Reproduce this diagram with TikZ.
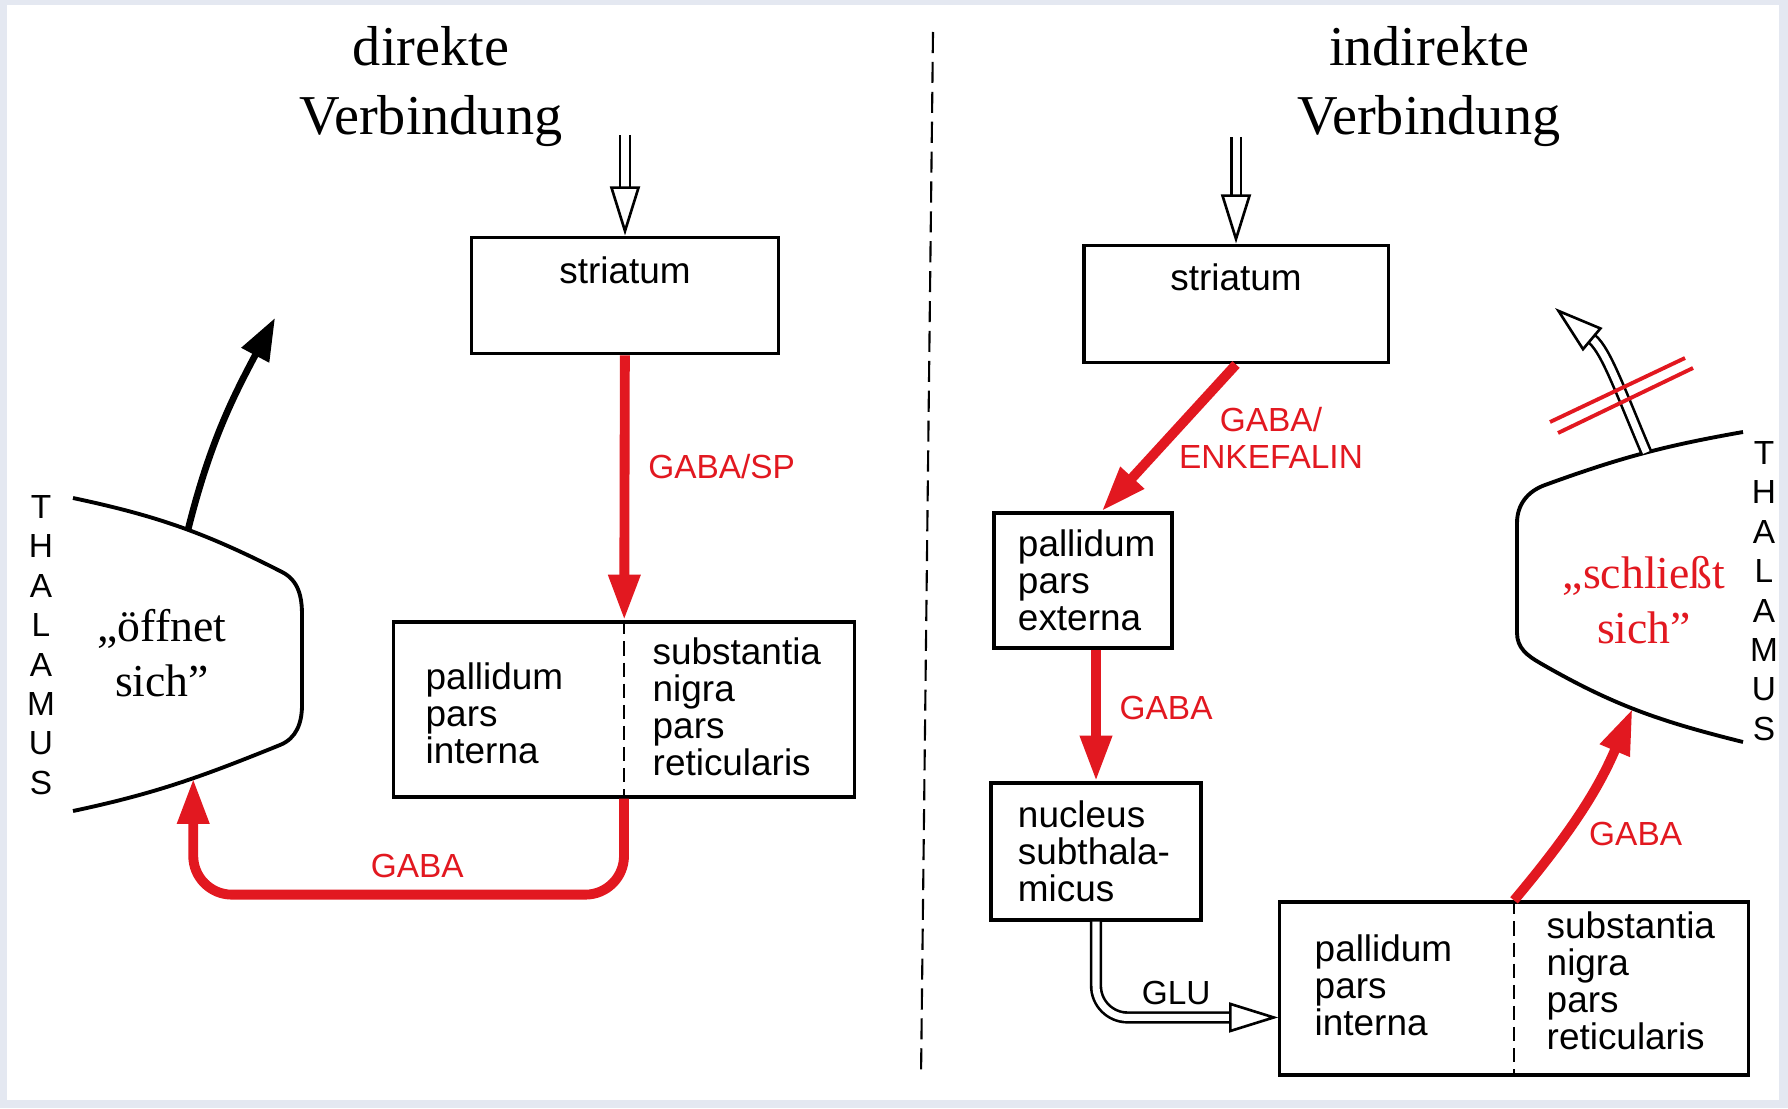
\documentclass[tikz,border=0pt]{standalone}
\usepackage{fontspec}
\setmainfont{Liberation Serif}
\setsansfont{Liberation Sans}
\usetikzlibrary{arrows.meta,positioning}
\definecolor{nred}{RGB}{226,24,32}
\definecolor{framebg}{RGB}{228,232,241}

\begin{document}
\begin{tikzpicture}[x=0.01cm, y=0.01cm,
    box/.style={draw, line width=0.9pt, inner sep=0pt},
    boxtxt/.style={font=\sffamily\fontsize{10.5}{10.5}\selectfont, align=left, inner sep=0pt},
    lab/.style={font=\sffamily\fontsize{9.5}{10.5}\selectfont, align=center},
    rlab/.style={lab, text=nred},
    gaba/.style={draw=nred, line width=2.8pt, -{Triangle[length=13pt, width=8.5pt]}},
    hollow/.style={draw, line width=0.75pt, double=white, double distance=2pt,
        -{Triangle[open, length=14pt, width=8.5pt, line width=0.75pt]}},
    thal/.style={draw, line width=1.1pt},
    tletters/.style={font=\sffamily\fontsize{9.5}{11.2}\selectfont, align=center, inner sep=0pt},
    title/.style={font=\fontsize{16}{19.6}\selectfont, align=center},
    state/.style={font=\fontsize{13}{15.5}\selectfont, align=center}]

\fill[framebg] (0,0) rectangle (1788,1108);
\fill[white] (7,8) rectangle (1779,1103);
\useasboundingbox (0,0) rectangle (1788,1108);

% titles and divider
\node[title] (ltitle) at (431,1021) {direkte\\Verbindung};
\node[title] (rtitle) at (1429,1021) {indirekte\\Verbindung};
\draw[dash pattern=on 6pt off 2.5pt, line width=0.6pt] (933,1076) -- (921,30);

% --- direkte Verbindung
\coordinate (lin) at (625,973);
\node[box, boxtxt, minimum width=3.07cm, text height=13.1pt, text depth=20.1pt] (lstr) at (625,812.5) {striatum};
\node[box, minimum width=4.60cm, minimum height=1.75cm] (lpal) at (624,398.5) {};
\draw[dash pattern=on 4pt off 2pt, line width=0.6pt] (lpal.north) -- (lpal.south);
\node[boxtxt, anchor=west] (lpalint) at (425,395) {pallidum\\pars\\interna};
\node[boxtxt, anchor=west] (lsnr) at (652,401) {substantia\\nigra\\pars\\reticularis};

% thalamus left
\draw[thal] (73,610) to[out=-12, in=153] coordinate[pos=.54] (ltop) (282,536)
    to[out=-27, in=90] (302,493) -- (302,403)
    to[out=-90, in=22] (280,363) to[out=202, in=12] coordinate[pos=.42] (lbot) (73,297);
\node[tletters] (lthal) at (41,463) {T\\H\\A\\L\\A\\M\\U\\S};
\node[state] (lopen) at (162,455) {,,öffnet\\sich''};
\coordinate (lout) at (275,790);

\draw[hollow] (lin) -- (lstr);
\draw[gaba] (lstr) -- node[rlab, pos=.42, right=2pt] {GABA/SP} (lpal);
\draw[gaba, rounded corners=11pt] (lpal.south) -- ++(0,-96) -| node[rlab, pos=.24, above] {GABA} (lbot);
\draw[line width=1.9pt, -{Triangle[length=12pt, width=8.5pt]}] (ltop) to[out=76, in=-118] (lout);

% --- indirekte Verbindung
\coordinate (rin) at (1236,971);
\node[box, boxtxt, minimum width=3.04cm, text height=12.8pt, text depth=20.7pt] (rstr) at (1236,804) {striatum};
\node[box, boxtxt, minimum width=1.78cm, minimum height=1.35cm, text width=1.30cm] (rext) at (1083,527.5) {pallidum\\pars\\externa};
\node[box, boxtxt, minimum width=2.10cm, minimum height=1.37cm, text width=1.56cm] (rnuc) at (1096,256.5) {nucleus\\subthala-\\micus};
\node[box, minimum width=4.68cm, minimum height=1.73cm] (rpal) at (1514,119.5) {};
\draw[dash pattern=on 4pt off 2pt, line width=0.6pt] (rpal.north) -- (rpal.south);
\node[boxtxt, anchor=west] (rpalint) at (1314,122.5) {pallidum\\pars\\interna};
\node[boxtxt, anchor=west] (rsnr) at (1546,127) {substantia\\nigra\\pars\\reticularis};

% thalamus right
\draw[thal] (1743,676) to[out=190, in=20] coordinate[pos=.48] (rtop) (1545,623)
    to[out=200, in=90] (1517,585) -- (1517,475)
    to[out=-90, in=150] (1540,445) to[out=-30, in=166] coordinate[pos=.47] (rbot) (1743,366);
\node[tletters] (rthal) at (1764,517) {T\\H\\A\\L\\A\\M\\U\\S};
\node[state, text=nred] (rclose) at (1644,508) {,,schließt\\sich''};
\coordinate (rout) at (1555,800);

\draw[hollow] (rin) -- (rstr);
\draw[gaba] (rstr.south) -- node[rlab, midway, right=-1.8pt] {GABA/\\ENKEFALIN} (rext.75);
\draw[gaba] (rext.south -| rnuc.north) -- node[rlab, pos=.44, right=2pt] {GABA} (rnuc.north);
\draw[hollow, rounded corners=9pt] (rnuc.south) |- node[lab, pos=.72, above] {GLU} (rpal.187);
\draw[gaba] (rpal.north) to[out=50, in=-113] node[rlab, pos=.36, right=2pt] {GABA} (rbot);
\draw[hollow] (rtop) to[out=113, in=-40] (rout);
\draw[nred, line width=1.1pt] (1550,686) -- (1685,750) (1558,675) -- (1693,740);
\end{tikzpicture}
\end{document}
